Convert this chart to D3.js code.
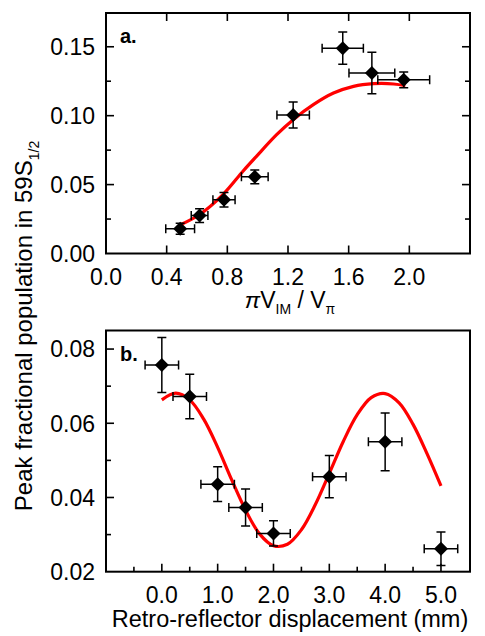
<!DOCTYPE html>
<html>
<head>
<meta charset="utf-8">
<script src="https://cdn.jsdelivr.net/npm/d3@7"></script>
<style>
  body { margin: 0; background: #fff; }
  svg text { font-family: "Liberation Sans", Arial, sans-serif; fill: #000; }
</style>
</head>
<body>
<svg id="chart" width="485" height="636"></svg>
<script>
// panel a: population vs pi*V_IM/V_pi
const topX = [0.489, 0.617, 0.778, 0.981, 1.234, 1.561, 1.753, 1.963];
const topY = [0.0179, 0.0275, 0.039, 0.0556, 0.1005, 0.149, 0.131, 0.126];
const topXErr = [0.095, 0.055, 0.073, 0.088, 0.107, 0.136, 0.151, 0.171];
const topYErr = [0.004, 0.005, 0.0053, 0.005, 0.0094, 0.0117, 0.015, 0.0057];
const topFitX = [0.484, 0.617, 0.771, 0.903, 0.992, 1.125, 1.234, 1.367, 1.5, 1.632, 1.764, 1.897, 1.974];
const topFitY = [0.0205, 0.0283, 0.0428, 0.0597, 0.0705, 0.0862, 0.0971, 0.108, 0.1164, 0.1213, 0.1232, 0.123, 0.1217];
const topXTicks = ["0.0", "0.4", "0.8", "1.2", "1.6", "2.0"];
const topYTicks = ["0.00", "0.05", "0.10", "0.15"];

// panel b: population vs retro-reflector displacement
const botX = [0, 0.5, 1, 1.5, 2, 3, 4, 5];
const botY = [0.0757, 0.0672, 0.0436, 0.0373, 0.0303, 0.0456, 0.055, 0.0262];
const botXErr = [0.3, 0.3, 0.3, 0.3, 0.3, 0.3, 0.3, 0.3];
const botYErr = [0.0074, 0.006, 0.0047, 0.005, 0.0034, 0.0057, 0.0078, 0.0045];
const botFitX = [0, 0.25, 0.5, 0.75, 1, 1.25, 1.5, 1.75, 2, 2.25, 2.5, 2.75, 3, 3.25, 3.5, 3.75, 4, 4.25, 4.5, 4.75, 5];
const botFitY = [0.0663, 0.0681, 0.0663, 0.0611, 0.0535, 0.0448, 0.0366, 0.0302, 0.027, 0.0274, 0.0313, 0.0381, 0.0465, 0.0551, 0.0623, 0.0669, 0.068, 0.0655, 0.0597, 0.0518, 0.0431];
const botXTicks = ["0.0", "1.0", "2.0", "3.0", "4.0", "5.0"];
const botYTicks = ["0.02", "0.04", "0.06", "0.08"];

const svg = d3.select("#chart");
const left = 106, right = 470;

function panel(opt) {
  const x = d3.scaleLinear().domain(opt.xDomain).range([left, right]);
  const y = d3.scaleLinear().domain(opt.yDomain).range([opt.bottom, opt.top]);
  const g = svg.append("g");

  // ticks, pointing inward
  const tickLine = (x1, y1, x2, y2) => g.append("line")
      .attr("x1", x1).attr("y1", y1).attr("x2", x2).attr("y2", y2)
      .attr("stroke", "#000").attr("stroke-width", 1.6);

  opt.yMinor.forEach(v => {
    const major = opt.yTicks.map(Number).some(t => Math.abs(t - v) < 1e-9);
    const len = major ? 8 : 5;
    tickLine(left, y(v), left + len, y(v));
    if (opt.mirror) tickLine(right, y(v), right - len, y(v));
  });
  opt.xMinor.forEach(v => {
    const major = opt.xTicks.map(Number).some(t => Math.abs(t - v) < 1e-9);
    const len = major ? 8 : 5;
    tickLine(x(v), opt.bottom, x(v), opt.bottom - len);
    if (opt.mirror) tickLine(x(v), opt.top, x(v), opt.top + len);
  });

  // tick labels
  g.append("g").selectAll("text").data(opt.yTicks).join("text")
      .attr("x", left - 11).attr("y", d => y(+d))
      .attr("dy", "0.36em")
      .attr("text-anchor", "end")
      .style("font-size", "23px")
      .text(d => d);
  g.append("g").selectAll("text").data(opt.xTicks).join("text")
      .attr("x", d => x(+d)).attr("y", opt.bottom + 31)
      .attr("text-anchor", "middle")
      .style("font-size", "23px")
      .text(d => d);

  // fit curve
  const line = d3.line().x(d => x(d[0])).y(d => y(d[1])).curve(d3.curveCatmullRom);
  g.append("path")
      .datum(d3.zip(opt.fitX, opt.fitY))
      .attr("d", line)
      .attr("fill", "none")
      .attr("stroke", "#ff0000")
      .attr("stroke-width", 3.2);

  // error bars
  const pts = opt.xs.map((v, i) => ({x: v, y: opt.ys[i], ex: opt.xErr[i], ey: opt.yErr[i]}));
  const cap = 4.5;
  const eb = g.append("g").attr("stroke", "#000").attr("stroke-width", 1.5).attr("fill", "none");
  pts.forEach(p => {
    const cx = x(p.x), cy = y(p.y);
    const x0 = x(p.x - p.ex), x1 = x(p.x + p.ex);
    const y0 = y(p.y - p.ey), y1 = y(p.y + p.ey);
    eb.append("path").attr("d",
      `M${x0},${cy}H${x1}M${x0},${cy - cap}V${cy + cap}M${x1},${cy - cap}V${cy + cap}` +
      `M${cx},${y0}V${y1}M${cx - cap},${y0}H${cx + cap}M${cx - cap},${y1}H${cx + cap}`);
  });

  // diamond markers
  g.append("g").selectAll("path").data(pts).join("path")
      .attr("transform", d => `translate(${x(d.x)},${y(d.y)})`)
      .attr("d", "M0,-7L7,0L0,7L-7,0Z")
      .attr("fill", "#000");

  // frame
  g.append("rect")
      .attr("x", left).attr("y", opt.top)
      .attr("width", right - left).attr("height", opt.bottom - opt.top)
      .attr("fill", "none").attr("stroke", "#000").attr("stroke-width", 2);

  // panel letter
  g.append("text")
      .attr("x", left + 14).attr("y", opt.top + 30)
      .style("font-size", "20px").style("font-weight", "bold")
      .text(opt.letter);
  return {x, y};
}

panel({
  letter: "a.", top: 13, bottom: 253.5,
  xDomain: [0, 2.4], yDomain: [0, 0.1745],
  xTicks: topXTicks, yTicks: topYTicks,
  xMinor: [0.4, 0.8, 1.2, 1.6, 2.0],
  yMinor: [0.025, 0.05, 0.075, 0.1, 0.125, 0.15],
  mirror: true,
  xs: topX, ys: topY, xErr: topXErr, yErr: topYErr,
  fitX: topFitX, fitY: topFitY
});

panel({
  letter: "b.", top: 330.5, bottom: 571.7,
  xDomain: [-1, 5.52], yDomain: [0.02, 0.085],
  xTicks: botXTicks, yTicks: botYTicks,
  xMinor: [-0.5, 0, 0.5, 1, 1.5, 2, 2.5, 3, 3.5, 4, 4.5, 5],
  yMinor: [0.03, 0.04, 0.05, 0.06, 0.07, 0.08],
  mirror: false,
  xs: botX, ys: botY, xErr: botXErr, yErr: botYErr,
  fitX: botFitX, fitY: botFitY
});

// axis titles
const xt = svg.append("text")
    .attr("x", 290).attr("y", 308)
    .attr("text-anchor", "middle")
    .style("font-size", "23px");
xt.append("tspan").style("font-style", "italic").text("π");
xt.append("tspan").text("V");
xt.append("tspan").attr("dy", 6).style("font-size", "14px").text("IM");
xt.append("tspan").attr("dy", -6).text(" / V");
xt.append("tspan").attr("dy", 6).style("font-size", "14px").text("π");

svg.append("text")
    .attr("x", 290).attr("y", 627)
    .attr("text-anchor", "middle")
    .style("font-size", "23.5px")
    .text("Retro-reflector displacement (mm)");

const yt = svg.append("text")
    .attr("transform", "translate(32,326) rotate(-90)")
    .attr("text-anchor", "middle")
    .style("font-size", "24px");
yt.append("tspan").text("Peak fractional population in 59S");
yt.append("tspan").attr("dy", 7).style("font-size", "14px").text("1/2");
</script>
</body>
</html>
